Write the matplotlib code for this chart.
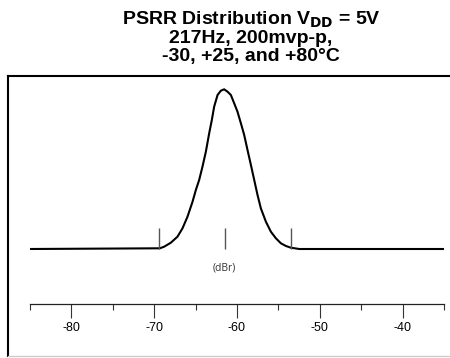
import matplotlib.pyplot as plt
from matplotlib.lines import Line2D

# PSRR distribution curve (dBr vs. relative count)
psrr_db = [-85, -69.32, -68.80, -67.99, -67.19, -66.58, -65.98, -65.37, -64.97,
           -64.57, -64.17, -63.76, -63.36, -63.04, -62.76, -62.35, -61.95, -61.55,
           -61.14, -60.74, -60.34, -59.94, -59.53, -59.13, -58.73, -58.32, -57.92,
           -57.52, -57.12, -56.51, -55.91, -55.30, -54.70, -54.09, -53.49, -52.48, -35]
density = [0, 0.7, 2.3, 6.3, 12.3, 20.7, 32.3, 47.3, 59,
           69, 82.3, 97.3, 115.7, 129, 142.3, 154, 158.3, 159.7,
           157.3, 154, 145.7, 137.3, 125.7, 114, 99, 84, 69,
           54, 40.7, 27.3, 17.3, 10.7, 5.7, 3, 1.3, 0, 0]

# marker lines (min, mean, max)
markers = [-69.4, -61.5, -53.5]

major_ticks = [-80, -70, -60, -50, -40]
minor_ticks = [-85, -75, -65, -55, -45, -35]

plt.rcParams['font.family'] = ['Liberation Sans', 'DejaVu Sans']
plt.rcParams['axes.unicode_minus'] = False

fig = plt.figure(figsize=(4.5, 3.58), dpi=100)
W, H = 450, 358

ax = fig.add_axes([30 / W, 1 - 304 / H, 414 / W, 228 / H])
ax.plot(psrr_db, density, color='black', lw=1.5, solid_capstyle='butt',
        solid_joinstyle='round')
ax.vlines(markers, 0, 21, color='#555555', lw=1)
ax.text(-61.5, -19, '(dBr)', ha='center', va='center', fontsize=7.5,
        color='#333333', family=['Open Sans', 'DejaVu Sans'])

ax.set_xlim(-85, -35)
ax.set_ylim(-55, 173)
for s in ['left', 'right', 'top']:
    ax.spines[s].set_visible(False)
ax.spines['bottom'].set_linewidth(0.9)
ax.spines['bottom'].set_color('#222222')
ax.set_yticks([])
ax.set_xticks(major_ticks)
ax.set_xticks(minor_ticks, minor=True)
ax.tick_params(axis='x', which='major', direction='out', length=10, width=0.8,
               color='#333333', labelsize=9, pad=3)
ax.tick_params(axis='x', which='minor', direction='out', length=4.5, width=0.8,
               color='#333333')
ax.patch.set_alpha(0)

# title, three lines
tx = 251 / W
fig.text(tx, 1 - 20 / H, r'PSRR Distribution V$_{\mathbf{DD}}$ = 5V', ha='center', va='center',
         fontsize=14, fontweight='bold')
fig.text(tx, 1 - 38.5 / H, '217Hz, 200mvp-p,', ha='center', va='center',
         fontsize=14, fontweight='bold')
fig.text(tx, 1 - 56 / H, '-30, +25, and +80°C', ha='center', va='center',
         fontsize=14, fontweight='bold')

# outer frame
x0, ytop, ybot = 8 / W, 1 - 76 / H, 1 - 355.5 / H
fig.add_artist(Line2D([x0, 1], [ytop, ytop], transform=fig.transFigure, color='black', lw=1.5))
fig.add_artist(Line2D([x0, x0], [ybot, ytop], transform=fig.transFigure, color='black', lw=1.5))
fig.add_artist(Line2D([x0, 1], [ybot, ybot], transform=fig.transFigure, color='#cccccc', lw=1))

fig.savefig('out.png', dpi=100)
